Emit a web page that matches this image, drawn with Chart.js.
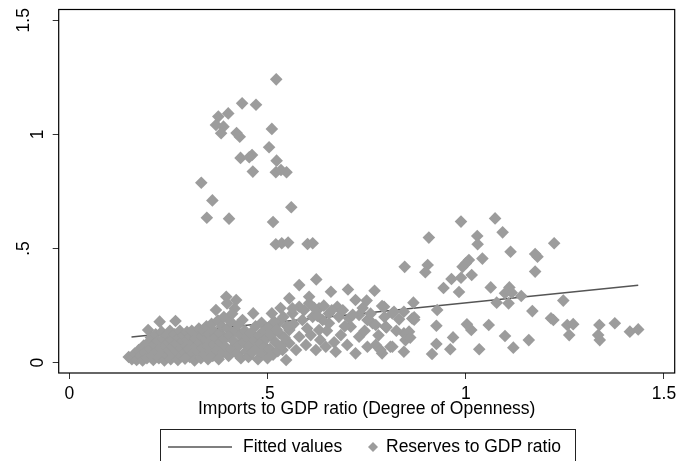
<!DOCTYPE html>
<html>
<head>
<meta charset="utf-8">
<script src="https://cdn.jsdelivr.net/npm/chart.js@4/dist/chart.umd.min.js"></script>
<style>
html,body{margin:0;padding:0;background:#fff;}
canvas{display:block;}
</style>
</head>
<body>
<canvas id="c" width="681" height="461"></canvas>
<script>
// ---- data ----
const xTickValues = [0, 0.5, 1, 1.5];
const xTickLabels = ["0", ".5", "1", "1.5"];
const yTickValues = [0, 0.5, 1, 1.5];
const yTickLabels = ["0", ".5", "1", "1.5"];
const xAxisTitle = "Imports to GDP ratio (Degree of Openness)";
const seriesNames = ["Fitted values", "Reserves to GDP ratio"];

// fitted regression line (endpoints of the fitted values)
const fittedX = [0.157, 1.435];
const fittedY = [0.113, 0.339];

// high-reserve observations
const highReserves = [
 [0.522,1.241],[0.436,1.136],[0.471,1.130],[0.376,1.078],[0.401,1.092],[0.370,1.041],[0.389,1.034],
 [0.383,1.005],[0.511,1.024],[0.430,0.990],[0.422,1.006],[0.504,0.944],[0.432,0.897],[0.461,0.910],
 [0.454,0.900],[0.463,0.837],[0.523,0.885],[0.521,0.834],[0.534,0.844],[0.548,0.834],[0.333,0.788],
 [0.361,0.711],[0.347,0.635],[0.403,0.631],[0.560,0.681],[0.514,0.616],[0.521,0.519],[0.536,0.523],
 [0.552,0.526],[0.601,0.520],[0.614,0.523]
];
// high-openness observations
const highOpenness = [
 [0.988,0.618],[1.074,0.632],[1.093,0.571],[0.907,0.548],[1.029,0.555],[1.030,0.519],[1.223,0.523],
 [1.113,0.486],[1.175,0.476],[1.181,0.464],[1.042,0.456],[0.846,0.420],[0.904,0.428],[0.898,0.396],
 [1.008,0.450],[1.000,0.435],[0.992,0.420],[1.175,0.399],[1.015,0.384],[0.964,0.367],[0.988,0.372],
 [0.944,0.327],[0.983,0.310],[1.063,0.330],[1.110,0.330],[1.099,0.304],[1.116,0.307],[1.140,0.292],
 [1.078,0.263],[1.108,0.260],[1.246,0.272],[1.168,0.226],[0.868,0.263],[0.928,0.231],[0.870,0.199],
 [1.215,0.195],[1.221,0.187],[1.256,0.165],[1.271,0.169],[1.261,0.121],[1.337,0.165],[1.334,0.121],
 [1.338,0.099],[1.376,0.173],[1.414,0.136],[1.435,0.146],[1.058,0.165],[1.003,0.168],[1.014,0.143],
 [0.926,0.162],[1.099,0.117],[1.120,0.066],[1.159,0.099],[1.034,0.059],[0.968,0.111],[0.961,0.059],
 [0.926,0.082],[0.915,0.038],[0.794,0.245],[0.815,0.216],[0.844,0.223],[0.865,0.194],[0.798,0.158],
 [0.844,0.129],[0.857,0.136],[0.848,0.099],[0.810,0.070],[0.844,0.048],[0.789,0.041]
];
// mid-openness observations
const midOpenness = [
 [0.580,0.340],[0.623,0.365],[0.660,0.311],[0.703,0.321],[0.770,0.315],[0.555,0.282],[0.722,0.275],
 [0.750,0.272],[0.789,0.248],[0.819,0.223],[0.870,0.188],[0.800,0.155],[0.765,0.173],[0.731,0.114],
 [0.710,0.158],[0.685,0.121],[0.815,0.070],[0.773,0.078],[0.785,0.056],[0.752,0.070],[0.722,0.041],
 [0.701,0.078],[0.672,0.048],[0.647,0.070],[0.622,0.056],[0.597,0.078],[0.572,0.056],[0.547,0.012],
 [0.538,0.056],[0.680,0.201],[0.706,0.194],[0.731,0.209],[0.752,0.187],[0.773,0.165],[0.655,0.173],
 [0.630,0.143],[0.609,0.121],[0.580,0.114],[0.555,0.143],[0.530,0.180],[0.580,0.245],[0.605,0.260],
 [0.630,0.238],[0.655,0.216],[0.614,0.201],[0.588,0.187],[0.563,0.216],[0.639,0.187],[0.676,0.245],
 [0.530,0.129],[0.555,0.085],[0.605,0.289],[0.563,0.238],[0.566,0.170],[0.592,0.230],[0.600,0.150],
 [0.618,0.240],[0.626,0.205],[0.633,0.100],[0.642,0.250],[0.650,0.140],[0.662,0.230],[0.668,0.090],
 [0.690,0.230],[0.695,0.160],[0.715,0.210],[0.740,0.240],[0.745,0.140],[0.760,0.215],[0.780,0.120],
 [0.795,0.200],[0.825,0.140],[0.832,0.190],[0.860,0.110]
];
// low-openness observations (dense cluster)
const lowOpenness = [
 [0.228,0.180],[0.268,0.183],[0.199,0.143],[0.370,0.231],[0.396,0.289],[0.398,0.260],[0.421,0.275],
 [0.417,0.238],[0.464,0.216],[0.511,0.216],[0.437,0.187],
 [0.150,0.025],[0.158,0.015],[0.165,0.040],[0.170,0.012],[0.175,0.055],[0.180,0.030],[0.185,0.010],
 [0.188,0.075],[0.192,0.045],[0.196,0.020],[0.200,0.090],
 [0.203,0.060],[0.206,0.110],[0.208,0.030],[0.212,0.012],[0.215,0.080],[0.218,0.125],[0.220,0.050],
 [0.224,0.095],[0.226,0.020],[0.230,0.065],[0.233,0.135],[0.236,0.040],[0.238,0.105],[0.240,0.010],
 [0.243,0.075],[0.246,0.120],[0.248,0.030],[0.250,0.090],
 [0.252,0.055],[0.254,0.140],[0.256,0.015],[0.259,0.100],[0.261,0.070],[0.263,0.035],[0.266,0.125],
 [0.270,0.085],[0.272,0.050],[0.274,0.012],[0.277,0.110],[0.279,0.140],[0.281,0.065],[0.283,0.030],
 [0.286,0.095],[0.288,0.120],[0.290,0.045],[0.292,0.018],[0.295,0.075],[0.297,0.135],[0.299,0.100],
 [0.302,0.060],[0.304,0.025],[0.306,0.115],[0.309,0.140],[0.311,0.085],[0.313,0.040],[0.316,0.010],
 [0.318,0.105],[0.320,0.070],[0.323,0.130],[0.325,0.050],[0.327,0.150],[0.330,0.090],[0.332,0.020],
 [0.334,0.115],[0.337,0.065],[0.339,0.140],[0.341,0.035],[0.344,0.100],[0.346,0.160],[0.348,0.075],
 [0.350,0.015],
 [0.352,0.125],[0.355,0.050],[0.357,0.095],[0.359,0.170],[0.362,0.030],[0.364,0.140],[0.366,0.080],
 [0.369,0.110],[0.372,0.055],[0.375,0.185],[0.377,0.015],[0.380,0.130],[0.382,0.090],[0.385,0.160],
 [0.387,0.045],[0.390,0.200],[0.392,0.105],[0.394,0.070],[0.399,0.150],
 [0.402,0.030],[0.404,0.120],[0.407,0.180],[0.409,0.060],[0.411,0.215],[0.414,0.095],[0.419,0.140],
 [0.423,0.040],[0.426,0.165],[0.428,0.075],[0.431,0.120],[0.433,0.020],[0.440,0.090],[0.443,0.140],
 [0.446,0.050],[0.449,0.110],
 [0.452,0.025],[0.455,0.075],[0.458,0.130],[0.461,0.045],[0.467,0.100],[0.470,0.160],[0.473,0.060],
 [0.476,0.015],[0.479,0.120],[0.482,0.085],[0.485,0.175],[0.488,0.040],[0.491,0.140],[0.494,0.070],
 [0.497,0.105],[0.500,0.020],
 [0.503,0.155],[0.506,0.060],[0.509,0.120],[0.514,0.035],[0.517,0.180],[0.520,0.090],[0.523,0.145],
 [0.526,0.050],[0.533,0.240],[0.536,0.075],[0.540,0.200],[0.543,0.110],[0.549,0.160]
];

// ---- styling / drawing ----
const FONT = '"Liberation Sans", Arial, Helvetica, sans-serif';
const FS = 17.5;
const MARKER = '#9c9c9c';
const LINE = '#555555';

const toPts = arr => arr.map(p => ({x: p[0], y: p[1]}));
const scatterPts = [].concat(toPts(highReserves), toPts(highOpenness), toPts(midOpenness), toPts(lowOpenness));
const fittedPts = fittedX.map((x, i) => ({x: x, y: fittedY[i]}));

const framePlugin = {
  id: 'frame',
  beforeDatasetsDraw(chart) {
    const {ctx, chartArea: a} = chart;
    ctx.save();
    ctx.strokeStyle = '#000';
    ctx.lineWidth = 1.2;
    ctx.strokeRect(a.left, a.top, a.right - a.left, a.bottom - a.top);
    ctx.restore();
  },
  afterDraw(chart) {
    const {ctx} = chart;
    const ys = chart.scales.y;
    ctx.save();
    ctx.font = FS + 'px ' + FONT;
    ctx.fillStyle = '#000';
    ctx.textAlign = 'center';
    ctx.textBaseline = 'middle';
    yTickValues.forEach((v, i) => {
      const py = ys.getPixelForValue(v);
      const lx = yTickLabels[i].length > 1 ? 24 : 38;
      ctx.save();
      ctx.translate(lx, py);
      ctx.rotate(-Math.PI / 2);
      ctx.fillText(yTickLabels[i], 0, 0);
      ctx.restore();
    });
    // legend
    const bx = 160, by = 429, bw = 415, bh = 45;
    ctx.fillStyle = '#fff';
    ctx.fillRect(bx, by, bw, bh);
    ctx.strokeStyle = '#222';
    ctx.lineWidth = 1;
    ctx.strokeRect(bx + 0.5, by + 0.5, bw, bh);
    const cy = 447;
    const lineDs = chart.data.datasets[1];
    const ptDs = chart.data.datasets[0];
    ctx.strokeStyle = lineDs.borderColor;
    ctx.lineWidth = lineDs.borderWidth;
    ctx.beginPath();
    ctx.moveTo(168, cy);
    ctx.lineTo(232, cy);
    ctx.stroke();
    ctx.fillStyle = '#000';
    ctx.textAlign = 'left';
    ctx.fillText(lineDs.label, 243, cy);
    ctx.fillStyle = ptDs.backgroundColor;
    ctx.beginPath();
    const r = 5;
    ctx.moveTo(373, cy - r); ctx.lineTo(373 + r, cy); ctx.lineTo(373, cy + r); ctx.lineTo(373 - r, cy);
    ctx.closePath();
    ctx.fill();
    ctx.fillStyle = '#000';
    ctx.fillText(ptDs.label, 386, cy);
    ctx.restore();
  }
};

new Chart(document.getElementById('c'), {
  type: 'scatter',
  data: {
    datasets: [
      {
        label: seriesNames[1],
        data: scatterPts,
        pointStyle: 'rectRot',
        pointRadius: 6.3,
        pointHoverRadius: 6.3,
        backgroundColor: MARKER,
        borderColor: MARKER,
        borderWidth: 0,
        order: 0
      },
      {
        type: 'line',
        label: seriesNames[0],
        data: fittedPts,
        showLine: true,
        pointRadius: 0,
        borderColor: LINE,
        borderWidth: 1.5,
        fill: false,
        order: 1
      }
    ]
  },
  options: {
    responsive: false,
    animation: false,
    devicePixelRatio: 1,
    layout: {padding: {left: 0, right: 4.3, top: 9.5, bottom: 41.4}},
    plugins: {legend: {display: false}, tooltip: {enabled: false}},
    scales: {
      x: {
        type: 'linear',
        position: 'bottom',
        min: -0.0266,
        max: 1.527,
        afterBuildTicks: s => { s.ticks = xTickValues.map(v => ({value: v})); },
        afterFit: s => { s.height = 46.6; },
        ticks: {
          callback: v => xTickLabels[xTickValues.indexOf(v)],
          font: {family: FONT, size: FS},
          color: '#000',
          padding: 4.5,
          maxRotation: 0,
          minRotation: 0,
          autoSkip: false
        },
        grid: {drawOnChartArea: false, drawTicks: true, tickLength: 6, color: '#333', lineWidth: 1},
        border: {display: false},
        title: {display: true, text: xAxisTitle, font: {family: FONT, size: FS}, color: '#000', padding: 0}
      },
      y: {
        type: 'linear',
        min: -0.045,
        max: 1.547,
        afterBuildTicks: s => { s.ticks = yTickValues.map(v => ({value: v})); },
        afterFit: s => { s.width = 58.7; },
        ticks: {display: false},
        grid: {drawOnChartArea: false, drawTicks: true, tickLength: 6, color: '#333', lineWidth: 1},
        border: {display: false}
      }
    }
  },
  plugins: [framePlugin]
});
</script>
</body>
</html>
